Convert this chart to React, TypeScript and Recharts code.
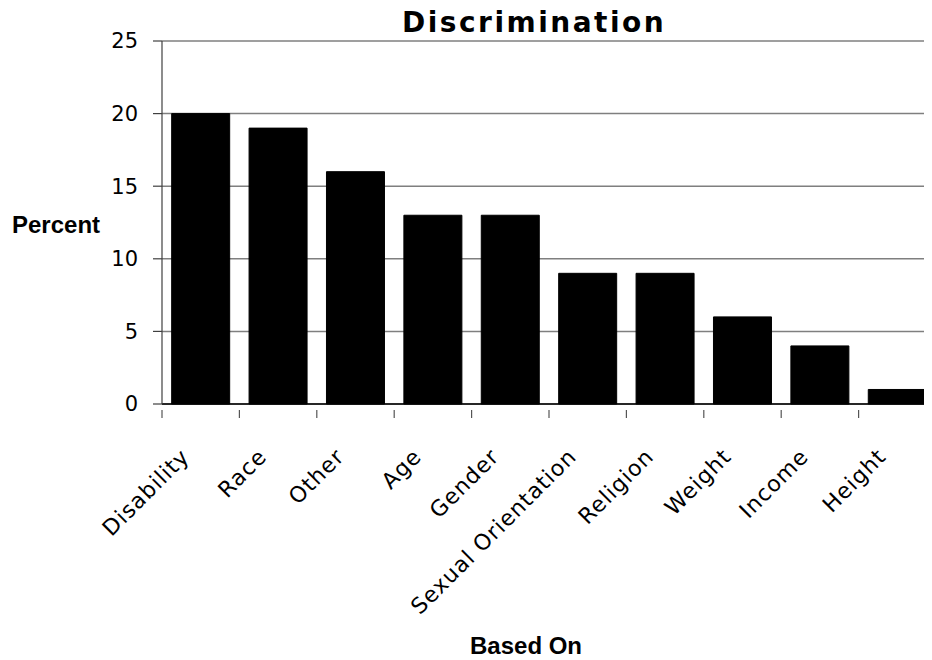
import React from 'react';
import { BarChart, Bar, XAxis, YAxis, CartesianGrid } from 'recharts';

const categories = [
  'Disability',
  'Race',
  'Other',
  'Age',
  'Gender',
  'Sexual Orientation',
  'Religion',
  'Weight',
  'Income',
  'Height',
];
const percents = [20, 19, 16, 13, 13, 9, 9, 6, 4, 1];
const yTicks = [0, 5, 10, 15, 20, 25];

const data = categories.map((name, i) => ({ name, value: percents[i] }));

const CHART_W = 940;
const CHART_H = 652;
const Y_AXIS_W = 154;
const MARGIN = { top: 33, right: 12, bottom: 0, left: 0 };
const BAND = (CHART_W - Y_AXIS_W - MARGIN.right) / categories.length;

const tickFont = '"DejaVu Sans", sans-serif';

// category label rotated 45deg, with a tick mark on the left edge of each band
function CategoryTick(props: any) {
  const { x, y, payload } = props;
  const axisY = y - 10;
  const left = x - BAND / 2;
  return (
    <g>
      <line x1={left} y1={axisY} x2={left} y2={axisY + 8} stroke="#555" strokeWidth={1.2} />
      <text
        transform={`translate(${x - 10},${axisY + 48}) rotate(-45)`}
        textAnchor="end"
        fontFamily={tickFont}
        fontSize={22}
        letterSpacing={1}
        fill="#000"
      >
        {payload.value}
      </text>
    </g>
  );
}

export default function App() {
  return (
    <div
      style={{ position: 'relative', width: 924, height: 652, overflow: 'hidden', background: '#fff' }}
    >
      <BarChart width={CHART_W} height={CHART_H} data={data} margin={MARGIN} barCategoryGap="12.5%">
        <CartesianGrid vertical={false} stroke="#7f7f7f" strokeWidth={1.5} />
        <XAxis
          dataKey="name"
          height={CHART_H - MARGIN.top - 363}
          interval={0}
          axisLine={{ stroke: '#000', strokeWidth: 1.5 }}
          tickLine={false}
          tickMargin={10}
          tick={<CategoryTick />}
        />
        <YAxis
          width={Y_AXIS_W}
          domain={[0, 25]}
          ticks={yTicks}
          interval={0}
          axisLine={{ stroke: '#404040', strokeWidth: 1.2 }}
          tickLine={{ stroke: '#404040', strokeWidth: 1.2 }}
          tickSize={9}
          tickMargin={15}
          tick={{ fontFamily: tickFont, fontSize: 21, fill: '#000' }}
        />
        <Bar dataKey="value" fill="#000" stroke="#000" isAnimationActive={false} />
        <text
          x={4}
          y={225}
          fontFamily='"Liberation Sans", Arial, sans-serif'
          fontWeight="bold"
          fontSize={24}
          fill="#000"
        >
          Percent
        </text>
        <text
          x={462}
          y={646}
          fontFamily='"Liberation Sans", Arial, sans-serif'
          fontWeight="bold"
          fontSize={24}
          fill="#000"
        >
          Based On
        </text>
      </BarChart>
      <div
        style={{
          position: 'absolute',
          zIndex: 2,
          left: 394,
          top: 1,
          fontFamily: '"DejaVu Sans", sans-serif',
          fontWeight: 'bold',
          fontSize: 28,
          lineHeight: '28px',
          letterSpacing: 2.5,
          whiteSpace: 'nowrap',
          color: '#000',
        }}
      >
        Discrimination
      </div>
    </div>
  );
}
